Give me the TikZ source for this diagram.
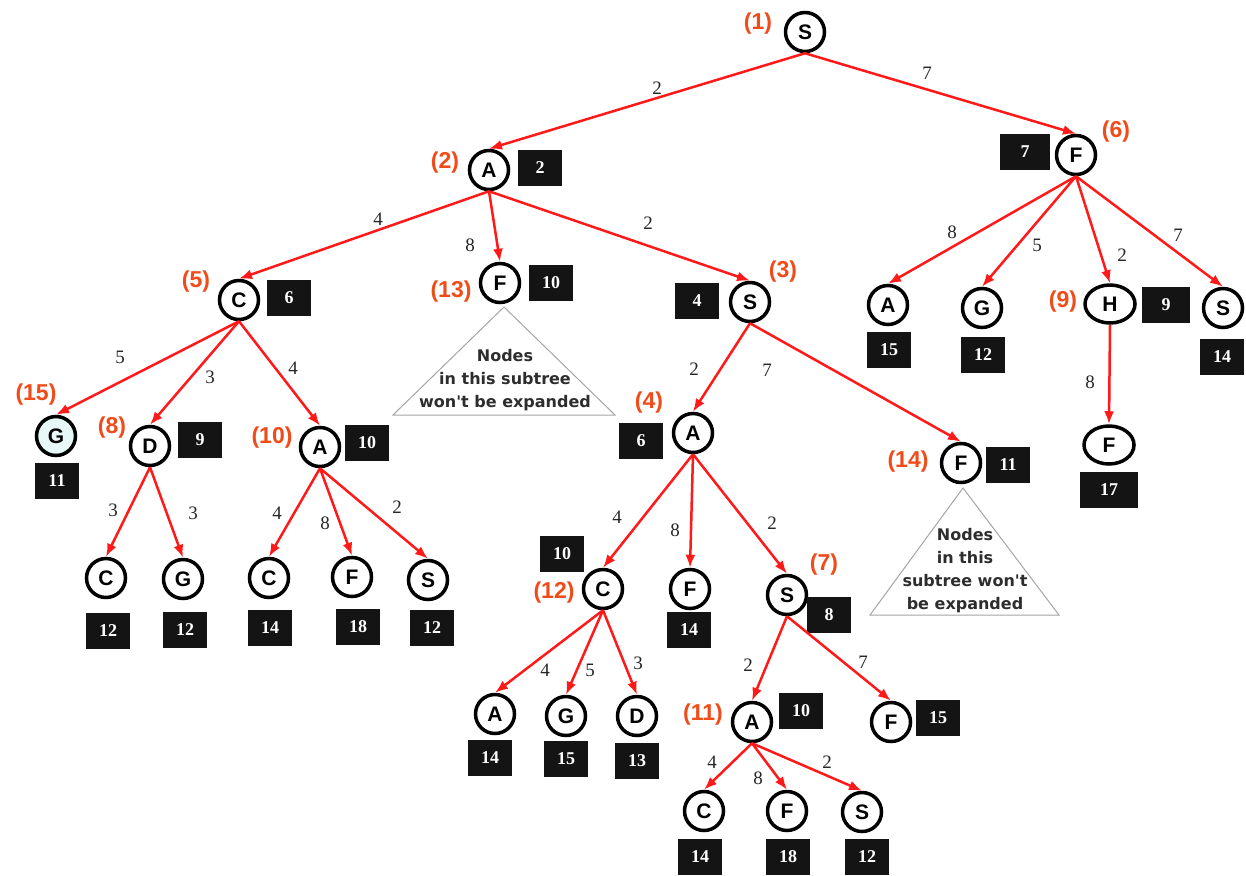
\documentclass[tikz,border=0pt]{standalone}
\usepackage{fontspec}
\setmainfont{Liberation Serif}
\newfontfamily\labelsans{Liberation Sans}
\newfontfamily\notefont{DejaVu Sans}
\usetikzlibrary{arrows.meta,shapes.geometric}
\definecolor{edgered}{RGB}{255,25,25}
\definecolor{ordred}{RGB}{240,75,25}
\definecolor{goalfill}{RGB}{232,247,247}
\definecolor{notegray}{RGB}{165,165,165}
\definecolor{notetext}{RGB}{45,45,45}
\begin{document}
\begin{tikzpicture}[x=1pt,y=-1pt,
  vtx/.style={circle,draw=black,line width=3.5pt,fill=white,minimum size=39pt,inner sep=0pt,
    font=\labelsans\bfseries\fontsize{21}{21}\selectfont},
  ovtx/.style={vtx,ellipse,minimum width=50pt,minimum height=38pt},
  cost/.style={fill=black!92,text=white,minimum width=44pt,minimum height=36pt,inner sep=0pt,
    font=\bfseries\fontsize{18}{18}\selectfont},
  ord/.style={text=ordred,inner sep=0pt,font=\labelsans\bfseries\fontsize{23}{23}\selectfont},
  wt/.style={text=black!85,inner sep=0pt,font=\fontsize{19}{19}\selectfont},
  arc/.style={draw=edgered,line width=2.5pt,-{Latex[length=13pt,width=10pt]}},
  note/.style={align=center,text=notetext,inner sep=0pt,
    font=\notefont\bfseries\fontsize{16}{23}\selectfont},
  tri/.style={draw=notegray,line width=1pt}]
\useasboundingbox (0,0) rectangle (1246,875);

% ---------- search tree vertices ----------
\node[vtx] (s1)  at (805,32)  {S};
\node[vtx] (a2)  at (489,170) {A};
\node[vtx] (f6)  at (1076,155) {F};
\node[vtx] (c5)  at (239,300) {C};
\node[vtx] (f13) at (500,283) {F};
\node[vtx] (s3)  at (750,302) {S};
\node[vtx,fill=goalfill] (g15) at (56,436) {G};
\node[vtx] (d8)  at (150,446) {D};
\node[vtx] (a10) at (320,447) {A};
\node[vtx] (cd)  at (106,578) {C};
\node[vtx] (gd)  at (183,579) {G};
\node[vtx] (ca)  at (269,578) {C};
\node[vtx] (fa)  at (352,577) {F};
\node[vtx] (sa)  at (428,580) {S};
\node[vtx] (a4)  at (693,433) {A};
\node[vtx] (f14) at (961,463) {F};
\node[vtx] (c12) at (603,589) {C};
\node[vtx] (f4)  at (690,589) {F};
\node[vtx] (s7)  at (787,595) {S};
\node[vtx] (ac)  at (495,714) {A};
\node[vtx] (gc)  at (566,716) {G};
\node[vtx] (dc)  at (637,716) {D};
\node[vtx] (a11) at (752,722) {A};
\node[vtx] (f7)  at (891,722) {F};
\node[vtx] (cb)  at (704,811) {C};
\node[vtx] (fb)  at (787,811) {F};
\node[vtx] (sb)  at (862,812) {S};
\node[vtx] (af)  at (888,305) {A};
\node[vtx] (gf)  at (982,308) {G};
\node[ovtx] (h9) at (1110,304) {H};
\node[vtx] (sf)  at (1223,308) {S};
\node[ovtx] (fh) at (1109,445) {F};

% ---------- path costs ----------
\node[cost] (k-a2)  at (540,168) {2};
\node[cost,minimum width=50pt] (k-f6) at (1025,152) {7};
\node[cost] (k-c5)  at (289,298) {6};
\node[cost] (k-f13) at (551,283) {10};
\node[cost] (k-s3)  at (697,301) {4};
\node[cost] (k-g15) at (57,481)  {11};
\node[cost] (k-d8)  at (200,440) {9};
\node[cost] (k-a10) at (367,443) {10};
\node[cost] (k-cd)  at (108,631) {12};
\node[cost] (k-gd)  at (185,630) {12};
\node[cost] (k-ca)  at (270,628) {14};
\node[cost] (k-fa)  at (358,627) {18};
\node[cost] (k-sa)  at (432,628) {12};
\node[cost] (k-a4)  at (641,441) {6};
\node[cost] (k-f14) at (1008,465) {11};
\node[cost] (k-c12) at (562,554) {10};
\node[cost] (k-f4)  at (689,630) {14};
\node[cost] (k-s7)  at (829,615) {8};
\node[cost] (k-ac)  at (490,758) {14};
\node[cost] (k-gc)  at (566,759) {15};
\node[cost] (k-dc)  at (637,761) {13};
\node[cost] (k-a11) at (801,711) {10};
\node[cost] (k-f7)  at (938,718) {15};
\node[cost] (k-cb)  at (700,857) {14};
\node[cost] (k-fb)  at (788,857) {18};
\node[cost] (k-sb)  at (867,857) {12};
\node[cost] (k-af)  at (889,350) {15};
\node[cost] (k-gf)  at (983,355) {12};
\node[cost,minimum width=48pt] (k-h9) at (1166,305) {9};
\node[cost] (k-sf)  at (1222,357) {14};
\node[cost,minimum width=58pt] (k-fh) at (1109,490) {17};

% ---------- expansion order ----------
\node[ord] (o1)  at (758,24)  {(1)};
\node[ord] (o2)  at (445,163) {(2)};
\node[ord] (o3)  at (783,272) {(3)};
\node[ord] (o4)  at (649,403) {(4)};
\node[ord] (o5)  at (196,282) {(5)};
\node[ord] (o6)  at (1116,132) {(6)};
\node[ord] (o7)  at (824,565) {(7)};
\node[ord] (o8)  at (112,428) {(8)};
\node[ord] (o9)  at (1063,302) {(9)};
\node[ord] (o10) at (272,438) {(10)};
\node[ord] (o11) at (703,715) {(11)};
\node[ord] (o12) at (554,593) {(12)};
\node[ord] (o13) at (451,292) {(13)};
\node[ord] (o14) at (908,462) {(14)};
\node[ord] (o15) at (36,395)  {(15)};

% ---------- arcs ----------
\draw[arc] (s1.south) -- (a2.north);
\draw[arc] (s1.south) -- (f6.north);
\draw[arc] (a2.south) -- (c5.north);
\draw[arc] (a2.south) -- (f13.north);
\draw[arc] (a2.south) -- (s3.north);
\draw[arc] (c5.south) -- (g15.north);
\draw[arc] (c5.south) -- (d8.north);
\draw[arc] (c5.south) -- (a10.north);
\draw[arc] (d8.south) -- (cd.north);
\draw[arc] (d8.south) -- (gd.north);
\draw[arc] (a10.south) -- (ca.north);
\draw[arc] (a10.south) -- (fa.north);
\draw[arc] (a10.south) -- (sa.north);
\draw[arc] (s3.south) -- (a4.north);
\draw[arc] (s3.south) -- (f14.north);
\draw[arc] (a4.south) -- (c12.north);
\draw[arc] (a4.south) -- (f4.north);
\draw[arc] (a4.south) -- (s7.north);
\draw[arc] (c12.south) -- (ac.north);
\draw[arc] (c12.south) -- (gc.north);
\draw[arc] (c12.south) -- (dc.north);
\draw[arc] (s7.south) -- (a11.north);
\draw[arc] (s7.south) -- (f7.north);
\draw[arc] (a11.south) -- (cb.north);
\draw[arc] (a11.south) -- (fb.north);
\draw[arc] (a11.south) -- (sb.north);
\draw[arc] (f6.south) -- (af.north);
\draw[arc] (f6.south) -- (gf.north);
\draw[arc] (f6.south) -- (h9.north);
\draw[arc] (f6.south) -- (sf.north);
\draw[arc] (h9.south) -- (fh.north);

% ---------- arc weights ----------
\node[wt] (w1)  at (657,88)  {2};
\node[wt] (w2)  at (927,73)  {7};
\node[wt] (w3)  at (378,219) {4};
\node[wt] (w4)  at (470,245) {8};
\node[wt] (w5)  at (648,223) {2};
\node[wt] (w6)  at (120,357) {5};
\node[wt] (w7)  at (210,377) {3};
\node[wt] (w8)  at (293,368) {4};
\node[wt] (w9)  at (113,510) {3};
\node[wt] (w10) at (193,513) {3};
\node[wt] (w11) at (277,513) {4};
\node[wt] (w12) at (325,523) {8};
\node[wt] (w13) at (397,507) {2};
\node[wt] (w14) at (694,369) {2};
\node[wt] (w15) at (767,370) {7};
\node[wt] (w16) at (617,517) {4};
\node[wt] (w17) at (675,530) {8};
\node[wt] (w18) at (772,523) {2};
\node[wt] (w19) at (545,670) {4};
\node[wt] (w20) at (590,670) {5};
\node[wt] (w21) at (638,663) {3};
\node[wt] (w22) at (748,665) {2};
\node[wt] (w23) at (863,662) {7};
\node[wt] (w24) at (712,762) {4};
\node[wt] (w25) at (758,778) {8};
\node[wt] (w26) at (827,762) {2};
\node[wt] (w27) at (952,232) {8};
\node[wt] (w28) at (1037,245) {5};
\node[wt] (w29) at (1122,255) {2};
\node[wt] (w30) at (1178,235) {7};
\node[wt] (w31) at (1090,382) {8};

% ---------- pruned subtrees ----------
\coordinate (t1a) at (504,307);
\coordinate (t1l) at (393,415);
\coordinate (t1r) at (615,415);
\draw[tri] (t1a) -- (t1l) -- (t1r) -- cycle;
\node[note] (n1) at (505,380) {Nodes\\in this subtree\\won't be expanded};

\coordinate (t2a) at (963,488);
\coordinate (t2l) at (870,615);
\coordinate (t2r) at (1059,615);
\draw[tri] (t2a) -- (t2l) -- (t2r) -- cycle;
\node[note] (n2) at (965,571) {Nodes\\in this\\subtree won't\\be expanded};
\end{tikzpicture}
\end{document}
